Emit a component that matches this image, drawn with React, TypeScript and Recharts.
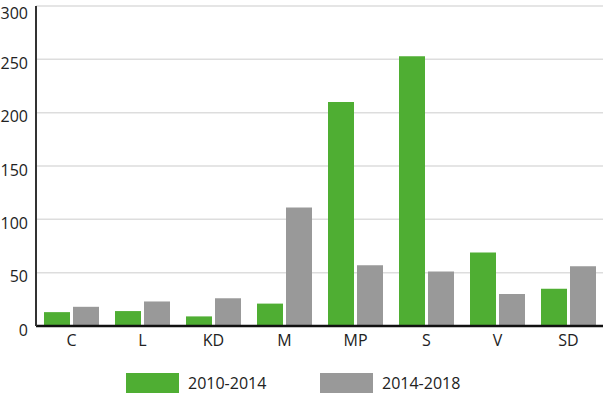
import { BarChart, Bar, XAxis, YAxis, CartesianGrid, Legend } from "recharts";

const parties = ["C", "L", "KD", "M", "MP", "S", "V", "SD"];
const period1 = [13, 14, 9, 21, 210, 253, 69, 35];
const period2 = [18, 23, 26, 111, 57, 51, 30, 56];
const yTicks = [0, 50, 100, 150, 200, 250, 300];
const dividers = [1, 2, 3, 4, 5, 6, 7, 8];

const GREEN = "#4fae33";
const GRAY = "#999999";
const FONT = "'Open Sans', 'Noto Sans', sans-serif";

const data = parties.map((p, i) => ({ party: p, a: period1[i], b: period2[i] }));

function LegendBox() {
  const item = (color: string, label: string, w: number) => (
    <div style={{ display: "flex", alignItems: "center", width: w }}>
      <div style={{ width: 53, height: 20, background: color, marginRight: 9 }} />
      <span style={{ fontSize: 16, color: "#222", fontFamily: FONT }}>{label}</span>
    </div>
  );
  return (
    <div style={{ display: "flex", paddingLeft: 126, paddingTop: 12 }}>
      {item(GREEN, "2010-2014", 194)}
      {item(GRAY, "2014-2018", 160)}
    </div>
  );
}

export default function App() {
  return (
    <div style={{ position: "absolute", left: 0, top: 0, width: 603, height: 393, background: "#fff" }}>
      <BarChart
        width={603}
        height={393}
        data={data}
        margin={{ top: 6, right: -1, left: 0, bottom: 0 }}
        barSize={26}
        barGap={3}
        style={{ fontFamily: FONT }}
      >
        <CartesianGrid vertical={false} stroke="#dddddd" strokeWidth={1.5} />
        <XAxis
          dataKey="party"
          axisLine={{ stroke: "#111", strokeWidth: 2.5 }}
          tickLine={false}
          tick={{ fontSize: 16, fill: "#222" }}
          tickMargin={3}
          height={34}
        />
        <XAxis
          xAxisId="div"
          type="number"
          domain={[0, 8]}
          ticks={dividers}
          allowDataOverflow
          axisLine={false}
          tick={false}
          tickLine={{ stroke: "#dddddd", strokeWidth: 1.5 }}
          tickSize={7}
          mirror
          height={0}
        />
        <YAxis
          domain={[0, 300]}
          ticks={yTicks}
          width={36}
          axisLine={{ stroke: "#333", strokeWidth: 2 }}
          tickLine={false}
          tickSize={0}
          tick={{ fontSize: 16, fill: "#222", dy: 4 }}
          tickMargin={8}
        />
        <Legend verticalAlign="bottom" height={33} content={() => <LegendBox />} />
        <Bar dataKey="a" fill={GREEN} isAnimationActive={false} />
        <Bar dataKey="b" fill={GRAY} isAnimationActive={false} />
      </BarChart>
    </div>
  );
}
